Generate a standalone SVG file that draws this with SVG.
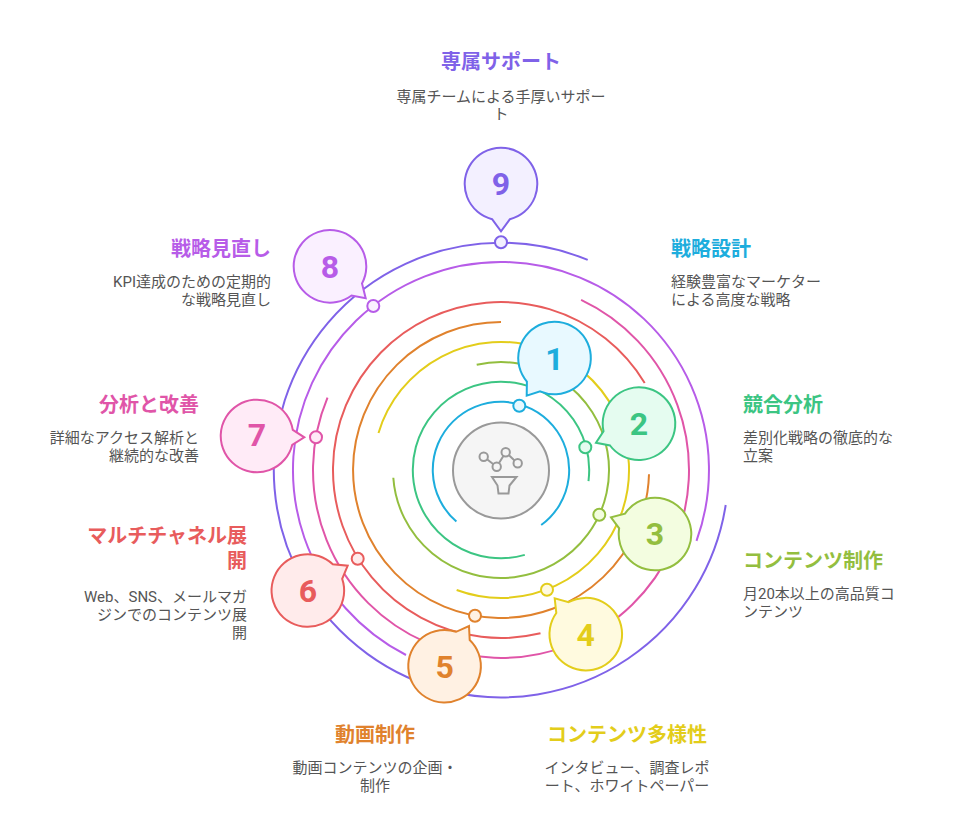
<svg xmlns="http://www.w3.org/2000/svg" width="957" height="833" viewBox="0 0 957 833">
<style>
text{font-family:"Roboto","Noto Sans CJK JP","Liberation Sans",sans-serif}
.t{font-size:20px;font-weight:700}
.b{font-size:15px;fill:#555}
.e{text-anchor:end}
.m{text-anchor:middle}
.n{font-size:32px;font-weight:700;text-anchor:middle}
.a{fill:none;stroke-width:2}
.s{stroke-width:2}
.c1{stroke:#1DADDD;fill:#E8F9FF}.c2{stroke:#3CC583;fill:#E5FCF0}.c3{stroke:#93BE3F;fill:#F3FDE0}.c4{stroke:#E3CD1B;fill:#FFFADF}.c5{stroke:#E0822D;fill:#FFF1E3}.c6{stroke:#E85C5C;fill:#FFEBEB}.c7{stroke:#E055A8;fill:#FFEBF7}.c8{stroke:#B75CE8;fill:#FAF0FF}.c9{stroke:#7F62E8;fill:#F3F0FF}
.f1{fill:#1DADDD}.f2{fill:#3CC583}.f3{fill:#93BE3F}.f4{fill:#E3CD1B}.f5{fill:#E0822D}.f6{fill:#E85C5C}.f7{fill:#E055A8}.f8{fill:#B75CE8}.f9{fill:#7F62E8}
.i{fill:none;stroke:#999;stroke-width:2}
</style>
<g id="connectors">
<path class="a c1" style="fill:none" d="M541.200 525.050A68.200 68.200 0 1 0 456.400 521.600"/>
<path class="a c2" style="fill:none" d="M588.500 481.060A88.200 88.200 0 1 0 524.800 554.900"/>
<path class="a c3" style="fill:none" d="M476.700 364.800A108 108 0 1 1 393.300 477.700"/>
<path class="a c4" style="fill:none" d="M378.500 432.950A128 128 0 1 1 456.650 590"/>
<path class="a c5" style="fill:none" d="M501 322A148 148 0 1 0 649 474.300"/>
<path class="a c6" style="fill:none" d="M644.700 383A168 168 0 1 0 540.500 633.300"/>
<path class="a c7" style="fill:none" d="M581.100 299.900A188 188 0 1 1 327.500 397.600"/>
<path class="a c8" style="fill:none" d="M696.500 540.900A208 208 0 1 0 406 655"/>
<path class="a c9" style="fill:none" d="M587.700 259.900A227.300 227.300 0 1 0 725.700 505"/>
</g>
<g id="center"><circle cx="501" cy="470.500" r="48" fill="#F5F5F5" stroke="#999" stroke-width="2"/>
<g class="i"><circle cx="483.700" cy="456.700" r="4.200"/><circle cx="496.700" cy="466.700" r="4.200"/><circle cx="505.700" cy="452.300" r="4.200"/><circle cx="517.700" cy="463.300" r="4.200"/><path d="M487 459.300L493.400 464.200M499 463L503.400 456M509 455.300L514.500 460.400M492 477H516.500L509.500 485.500L508.500 493.500H498.500L497.500 485.500Z"/></g></g>
<g id="node1"><circle class="s c1" cx="519.300" cy="405.700" r="6"/><path class="s c1" d="M526.900 381.550A36.300 36.300 0 1 1 540.150 391.340L526.700 395.700Z"/><text class="n f1" x="554.500" y="370">1</text><text class="t f1" x="671" y="256">戦略設計</text><text class="b" x="671" y="287">経験豊富なマーケター</text><text class="b" x="671" y="305">による高度な戦略</text></g>
<g id="node2"><circle class="s c2" cx="585.300" cy="447.300" r="6"/><path class="s c2" d="M603.500 431.300A36.300 36.300 0 1 1 610 445.500L596 442.700Z"/><text class="n f2" x="639" y="435">2</text><text class="t f2" x="743" y="412">競合分析</text><text class="b" x="743" y="443">差別化戦略の徹底的な</text><text class="b" x="743" y="461">立案</text></g>
<g id="node3"><circle class="s c3" cx="599.300" cy="514.700" r="6"/><path class="s c3" d="M625 513.600A36.300 36.300 0 1 1 619.150 528.300L611 517.300Z"/><text class="n f3" x="655" y="545">3</text><text class="t f3" x="743" y="568">コンテンツ制作</text><text class="b" x="743" y="599">月20本以上の高品質コ</text><text class="b" x="743" y="617">ンテンツ</text></g>
<g id="node4"><circle class="s c4" cx="547" cy="589.700" r="6"/><path class="s c4" d="M568.600 602.200A36.300 36.300 0 1 1 556.300 613L554.700 598.300Z"/><text class="n f4" x="585.700" y="646">4</text><text class="t f4 m" x="627" y="742">コンテンツ多様性</text><text class="b m" x="627" y="773">インタビュー、調査レポ</text><text class="b m" x="627" y="791">ート、ホワイトペーパー</text></g>
<g id="node5"><circle class="s c5" cx="475" cy="615.700" r="6"/><path class="s c5" d="M456.160 631.800A36.300 36.300 0 1 0 469.700 640L469 626Z"/><text class="n f5" x="444.700" y="678">5</text><text class="t f5 m" x="375" y="742">動画制作</text><text class="b m" x="375" y="773">動画コンテンツの企画・</text><text class="b m" x="375" y="791">制作</text></g>
<g id="node6"><circle class="s c6" cx="357.700" cy="558.700" r="6"/><path class="s c6" d="M332.800 564.200A36.300 36.300 0 1 0 342.200 578.840L347.700 565.700Z"/><text class="n f6" x="308" y="602">6</text><text class="t f6 e" x="247" y="543">マルチチャネル展</text><text class="t f6 e" x="247" y="568">開</text><text class="b e" x="247" y="602">Web、SNS、メールマガ</text><text class="b e" x="247" y="620">ジンでのコンテンツ展</text><text class="b e" x="247" y="638">開</text></g>
<g id="node7"><circle class="s c7" cx="316" cy="437.300" r="6"/><path class="s c7" d="M292.800 429.800A36.300 36.300 0 1 0 292.200 444.900L304.300 437.300Z"/><text class="n f7" x="257" y="446">7</text><text class="t f7 e" x="199" y="412">分析と改善</text><text class="b e" x="199" y="443">詳細なアクセス解析と</text><text class="b e" x="199" y="461">継続的な改善</text></g>
<g id="node8"><circle class="s c8" cx="373.300" cy="306" r="6"/><path class="s c8" d="M362 283.450A36.300 36.300 0 1 0 351.600 295.500L365.700 298.300Z"/><text class="n f8" x="330" y="278">8</text><text class="t f8 e" x="271" y="256">戦略見直し</text><text class="b e" x="271" y="287">KPI達成のための定期的</text><text class="b e" x="271" y="305">な戦略見直し</text></g>
<g id="node9"><circle class="s c9" cx="501" cy="242.300" r="6"/><path class="s c9" d="M492.100 219.200A36.300 36.300 0 1 1 509.900 219.200L501 231.300Z"/><text class="n f9" x="501" y="195">9</text><text class="t f9 m" x="501" y="69">専属サポート</text><text class="b m" x="501" y="101.500">専属チームによる手厚いサポー</text><text class="b m" x="501" y="119">ト</text></g>
</svg>
